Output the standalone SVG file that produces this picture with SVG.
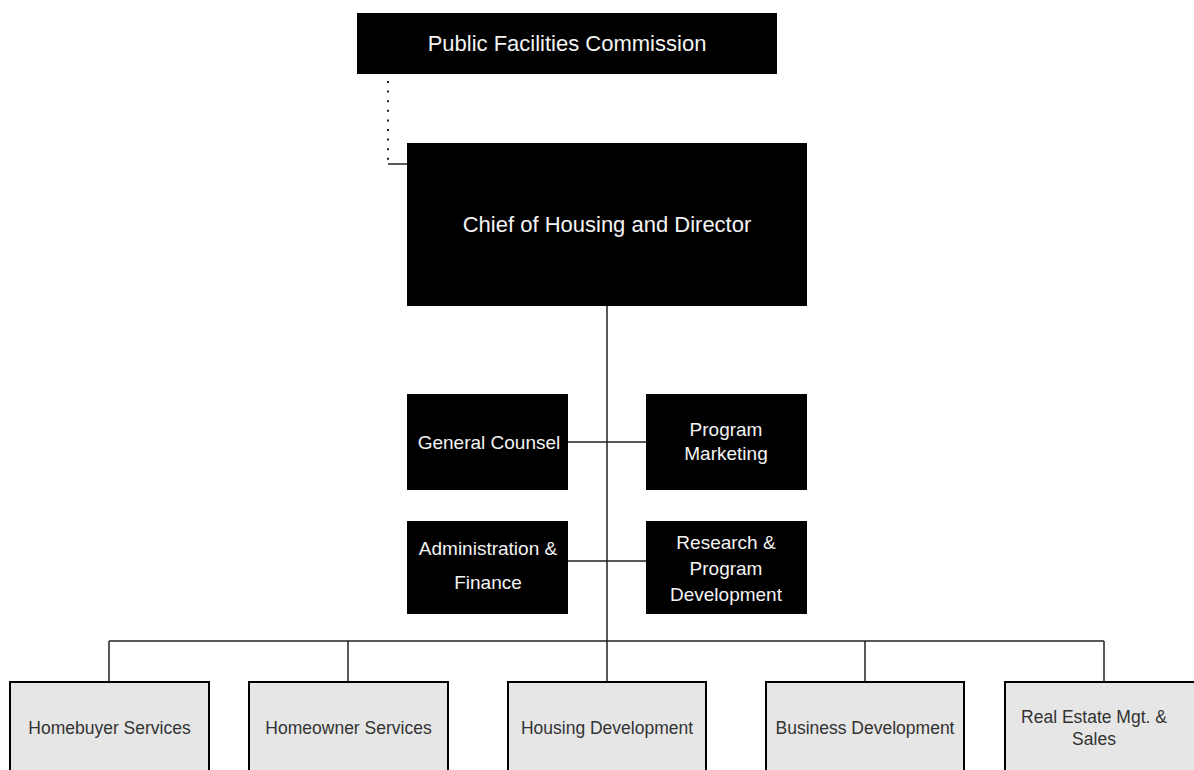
<svg xmlns="http://www.w3.org/2000/svg" width="1194" height="770" viewBox="0 0 1194 770">
<style>
.dark{fill:#000}
.light{fill:#e6e6e6;stroke:#000;stroke-width:2}
.wt{fill:#f4f4f4;font-family:"Liberation Sans",Arial,sans-serif;text-anchor:middle}
.gt{fill:#333;font-family:"Liberation Sans",Arial,sans-serif;font-size:17.5px;text-anchor:middle}
.ln{stroke:#222;stroke-width:1.5;fill:none}
.dot{stroke:#222;stroke-width:2;fill:none;stroke-dasharray:2 7.6}
</style>
<rect width="1194" height="770" fill="#fff"/>
<g id="connectors">
<line class="dot" x1="388" y1="81" x2="388" y2="163"/>
<line class="ln" x1="388" y1="164" x2="407" y2="164"/>
<line class="ln" x1="607" y1="306" x2="607" y2="681"/>
<line class="ln" x1="568" y1="442" x2="646" y2="442"/>
<line class="ln" x1="568" y1="561" x2="646" y2="561"/>
<line class="ln" x1="109" y1="641" x2="1104" y2="641"/>
<line class="ln" x1="109" y1="641" x2="109" y2="681"/>
<line class="ln" x1="348" y1="641" x2="348" y2="681"/>
<line class="ln" x1="865" y1="641" x2="865" y2="681"/>
<line class="ln" x1="1104" y1="641" x2="1104" y2="681"/>
</g>
<g id="public-facilities">
<rect class="dark" x="357" y="13" width="420" height="61"/>
<text class="wt" x="567" y="51" font-size="22">Public Facilities Commission</text>
</g>
<g id="chief">
<rect class="dark" x="407" y="143" width="400" height="163"/>
<text class="wt" x="607" y="232" font-size="22">Chief of Housing and Director</text>
</g>
<g id="general-counsel">
<rect class="dark" x="407" y="394" width="161" height="96"/>
<text class="wt" x="489" y="449" font-size="19">General Counsel</text>
</g>
<g id="program-marketing">
<rect class="dark" x="646" y="394" width="161" height="96"/>
<text class="wt" x="726" y="436" font-size="19">Program</text>
<text class="wt" x="726" y="460" font-size="19">Marketing</text>
</g>
<g id="admin-finance">
<rect class="dark" x="407" y="521" width="161" height="93"/>
<text class="wt" x="488" y="555" font-size="19">Administration &amp;</text>
<text class="wt" x="488" y="589" font-size="19">Finance</text>
</g>
<g id="research">
<rect class="dark" x="646" y="521" width="161" height="93"/>
<text class="wt" x="726" y="549" font-size="19">Research &amp;</text>
<text class="wt" x="726" y="575" font-size="19">Program</text>
<text class="wt" x="726" y="601" font-size="19">Development</text>
</g>
<g id="homebuyer">
<rect class="light" x="10" y="682" width="199" height="100"/>
<text class="gt" x="109.5" y="734">Homebuyer Services</text>
</g>
<g id="homeowner">
<rect class="light" x="249" y="682" width="199" height="100"/>
<text class="gt" x="348.5" y="734">Homeowner Services</text>
</g>
<g id="housing-development">
<rect class="light" x="508" y="682" width="198" height="100"/>
<text class="gt" x="607" y="734">Housing Development</text>
</g>
<g id="business-development">
<rect class="light" x="766" y="682" width="198" height="100"/>
<text class="gt" x="865" y="734">Business Development</text>
</g>
<g id="real-estate">
<rect class="light" x="1005" y="682" width="200" height="100"/>
<text class="gt" x="1094" y="723">Real Estate Mgt. &amp;</text>
<text class="gt" x="1094" y="745">Sales</text>
</g>
</svg>
